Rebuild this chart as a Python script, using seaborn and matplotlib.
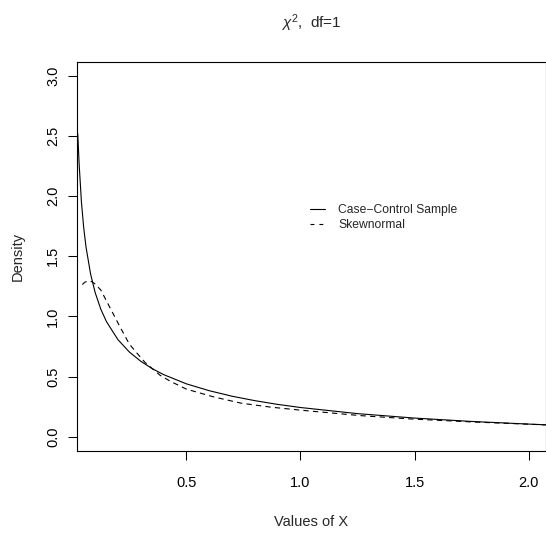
import matplotlib
matplotlib.use("Agg")
import matplotlib.pyplot as plt
from matplotlib.lines import Line2D
import seaborn as sns
import pandas as pd

# ---- data ----
cc_x = [0.024, 0.03, 0.04, 0.05, 0.06, 0.08, 0.10, 0.125, 0.15, 0.20, 0.25, 0.30,
        0.35, 0.40, 0.50, 0.60, 0.70, 0.80, 0.90, 1.00, 1.25, 1.50, 1.75, 2.00, 2.075]
cc_y = [2.52, 2.27, 1.955, 1.74, 1.58, 1.355, 1.20, 1.06, 0.956, 0.807, 0.704, 0.627,
        0.566, 0.516, 0.439, 0.382, 0.336, 0.299, 0.268, 0.242, 0.191, 0.154, 0.126, 0.104, 0.098]

sn_x = [0.044, 0.055, 0.07, 0.085, 0.10, 0.125, 0.166, 0.21, 0.25, 0.29, 0.32, 0.385,
        0.43, 0.50, 0.62, 0.74, 0.87, 1.00, 1.26, 1.48, 1.75, 2.00, 2.075]
sn_y = [1.265, 1.285, 1.295, 1.29, 1.27, 1.22, 1.07, 0.91, 0.77, 0.68, 0.615, 0.51,
        0.46, 0.395, 0.33, 0.278, 0.245, 0.22, 0.175, 0.147, 0.122, 0.103, 0.097]

series_names = ["Case\u2212Control Sample", "Skewnormal"]
x_ticks = [0.5, 1.0, 1.5, 2.0]
x_tick_labels = ["0.5", "1.0", "1.5", "2.0"]
y_ticks = [0.0, 0.5, 1.0, 1.5, 2.0, 2.5, 3.0]
y_tick_labels = ["0.0", "0.5", "1.0", "1.5", "2.0", "2.5", "3.0"]
title = r"$\chi^{2}$,  df=1"
x_label = "Values of X"
y_label = "Density"

# ---- style ----
sns.set_style("ticks")
plt.rcParams["font.family"] = ["Liberation Sans", "DejaVu Sans"]
plt.rcParams["mathtext.fontset"] = "custom"
plt.rcParams["mathtext.rm"] = "Liberation Sans"
plt.rcParams["mathtext.it"] = "Liberation Sans:italic"

W, H = 546, 537
fig = plt.figure(figsize=(W / 100, H / 100), dpi=100)
left, right, top, bottom = 77.3, 545.5, 61.7, 451.0
ax = fig.add_axes([left / W, 1 - bottom / H, (right - left) / W, (bottom - top) / H])

df_cc = pd.DataFrame({"x": cc_x, "density": cc_y})
df_sn = pd.DataFrame({"x": sn_x, "density": sn_y})
sns.lineplot(data=df_cc, x="x", y="density", ax=ax, color="black", lw=0.8,
             estimator=None, sort=False)
sns.lineplot(data=df_sn, x="x", y="density", ax=ax, color="black", lw=0.8,
             estimator=None, sort=False, linestyle=(0, (4.8, 3.8)))

ax.set_xlim(0.022, 2.074)
ax.set_ylim(-0.12, 3.12)
ax.set_xticks(x_ticks)
ax.set_xticklabels(x_tick_labels)
ax.set_yticks(y_ticks)
ax.set_yticklabels(y_tick_labels, rotation=90, va="center")

for s in ax.spines.values():
    s.set_visible(True)
    s.set_color("black")
    s.set_linewidth(0.8)

ax.tick_params(axis="both", direction="out", length=6.8, width=0.75,
               color="black", labelsize=10.5, labelcolor="black")
ax.tick_params(axis="x", pad=11.5)
ax.tick_params(axis="y", pad=5.4)

ax.set_xlabel(x_label, fontsize=10.5, va="center")
ax.xaxis.set_label_coords(0.5, (bottom - 522) / (bottom - top))
ax.set_ylabel(y_label, fontsize=10.5, va="center")
ax.yaxis.set_label_coords((17.5 - left) / (right - left), 0.5)

fig.text(311 / W, 1 - 23 / H, title, ha="center", va="center", fontsize=11)

handles = [Line2D([], [], color="black", lw=0.8),
           Line2D([], [], color="black", lw=0.8, linestyle=(0, (3.5, 4.5)))]
ax.legend(handles, series_names, loc="center left",
          bbox_to_anchor=(310 / W, 1 - 217.5 / H), bbox_transform=fig.transFigure,
          frameon=False, fontsize=8.7, handlelength=1.25, handletextpad=1.1,
          labelspacing=0.22, borderpad=0, borderaxespad=0)

fig.savefig("out.png", dpi=100)
